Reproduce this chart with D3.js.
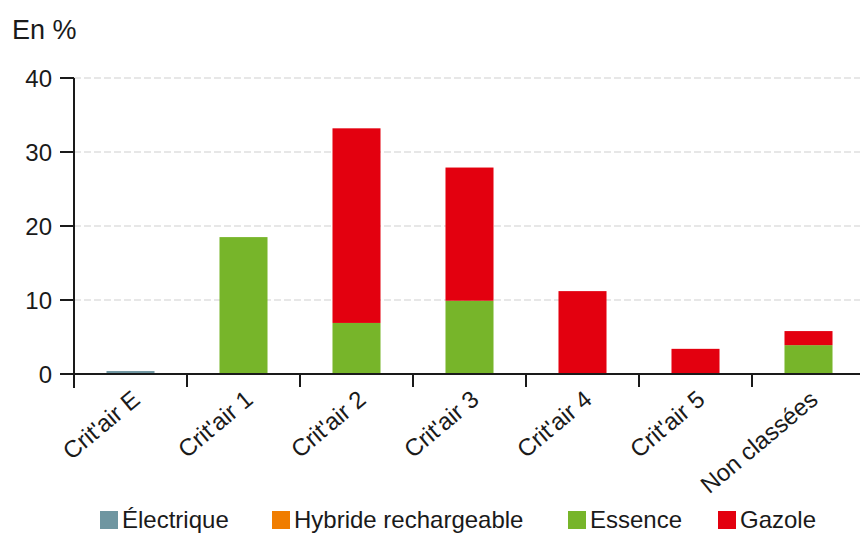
<!DOCTYPE html>
<html>
<head>
<meta charset="utf-8">
<script src="https://cdn.jsdelivr.net/npm/d3@7"></script>
<style>
  html, body { margin: 0; padding: 0; background: #fff; }
  svg { display: block; font-family: "Liberation Sans", Arial, Helvetica, sans-serif; }
</style>
</head>
<body>
<svg id="chart" width="860" height="534"></svg>
<script>
// Répartition du parc par vignette Crit'air et par énergie (en %)
const categories = ["Crit'air E", "Crit'air 1", "Crit'air 2", "Crit'air 3", "Crit'air 4", "Crit'air 5", "Non classées"];
const electrique = [0.4, 0, 0, 0, 0, 0, 0];
const hybride    = [0, 0, 0, 0, 0, 0, 0];
const essence    = [0, 18.5, 6.9, 9.9, 0, 0, 3.9];
const gazole     = [0, 0, 26.3, 18.0, 11.2, 3.4, 1.9];

const seriesNames  = ["Électrique", "Hybride rechargeable", "Essence", "Gazole"];
const seriesColors = ["#6f96a1", "#f07d00", "#77b52a", "#e3000f"];
const yTicks = [0, 10, 20, 30, 40];

const rows = categories.map((c, i) => ({
  cat: c,
  "Électrique": electrique[i],
  "Hybride rechargeable": hybride[i],
  "Essence": essence[i],
  "Gazole": gazole[i]
}));

const svg = d3.select("#chart");
const margin = { left: 74, top: 78, bottom: 374 };
const bandStep = 113;

const x = d3.scaleBand()
  .domain(categories)
  .range([margin.left, margin.left + bandStep * categories.length])
  .paddingInner(0.575)
  .paddingOuter(0.2875);

const y = d3.scaleLinear().domain([0, 40]).range([margin.bottom, margin.top]);

// Lignes de grille pointillées
svg.append("g")
  .selectAll("line")
  .data(yTicks.filter(d => d > 0))
  .join("line")
  .attr("x1", margin.left).attr("x2", 860)
  .attr("y1", d => y(d)).attr("y2", d => y(d))
  .attr("stroke", "#cfcfcf")
  .attr("stroke-width", 1.2)
  .attr("stroke-dasharray", "7,3");

// Barres empilées
const stack = d3.stack().keys(seriesNames)(rows);
const color = d3.scaleOrdinal().domain(seriesNames).range(seriesColors);

svg.append("g")
  .selectAll("g")
  .data(stack)
  .join("g")
  .attr("fill", d => color(d.key))
  .selectAll("rect")
  .data(d => d.filter(p => p[1] - p[0] > 0))
  .join("rect")
  .attr("x", d => x(d.data.cat))
  .attr("width", x.bandwidth())
  .attr("y", d => y(d[1]))
  .attr("height", d => y(d[0]) - y(d[1]));

// Axe des ordonnées
const yAxis = svg.append("g");
yAxis.append("line")
  .attr("x1", margin.left).attr("x2", margin.left)
  .attr("y1", y(40)).attr("y2", margin.bottom + 14)
  .attr("stroke", "#1a1a1a").attr("stroke-width", 2);
yAxis.selectAll("line.tick")
  .data(yTicks)
  .join("line")
  .attr("class", "tick")
  .attr("x1", margin.left - 14).attr("x2", margin.left)
  .attr("y1", d => y(d)).attr("y2", d => y(d))
  .attr("stroke", "#1a1a1a").attr("stroke-width", 2);
yAxis.selectAll("text")
  .data(yTicks)
  .join("text")
  .attr("x", margin.left - 22)
  .attr("y", d => y(d))
  .attr("dy", "0.36em")
  .attr("text-anchor", "end")
  .attr("font-size", 24)
  .attr("fill", "#1a1a1a")
  .text(d => d);

// Axe des abscisses
const xAxis = svg.append("g");
xAxis.append("line")
  .attr("x1", margin.left - 14).attr("x2", 860)
  .attr("y1", margin.bottom).attr("y2", margin.bottom)
  .attr("stroke", "#1a1a1a").attr("stroke-width", 2);
const boundaries = categories.map((c, i) => margin.left + bandStep * (i + 1));
xAxis.selectAll("line.tick")
  .data(boundaries)
  .join("line")
  .attr("class", "tick")
  .attr("x1", d => d).attr("x2", d => d)
  .attr("y1", margin.bottom).attr("y2", margin.bottom + 13)
  .attr("stroke", "#1a1a1a").attr("stroke-width", 2);
xAxis.selectAll("text")
  .data(categories)
  .join("text")
  .attr("transform", d => `translate(${x(d) + x.bandwidth() / 2 + 11},${margin.bottom + 28}) rotate(-40)`)
  .attr("text-anchor", "end")
  .attr("font-size", 24)
  .attr("fill", "#1a1a1a")
  .text(d => d);

// Unité
svg.append("text")
  .attr("x", 12).attr("y", 39)
  .attr("font-size", 27)
  .attr("fill", "#1a1a1a")
  .text("En %");

// Légende
const legendX = [100, 272, 568, 718];
const legend = svg.append("g")
  .selectAll("g")
  .data(seriesNames)
  .join("g")
  .attr("transform", (d, i) => `translate(${legendX[i]},511)`);
legend.append("rect")
  .attr("width", 18).attr("height", 18)
  .attr("fill", d => color(d));
legend.append("text")
  .attr("x", 22).attr("y", 17)
  .attr("font-size", 24)
  .attr("fill", "#1a1a1a")
  .text(d => d);
</script>
</body>
</html>
